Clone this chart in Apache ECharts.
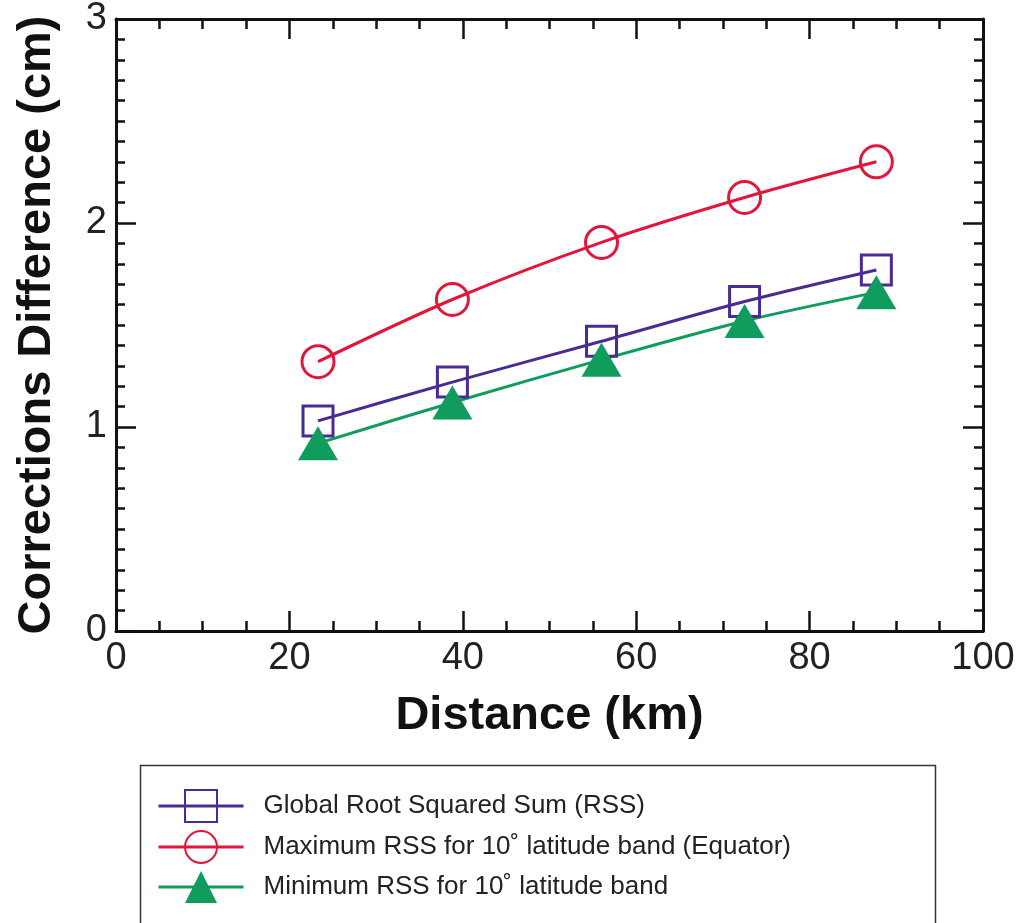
<!DOCTYPE html>
<html>
<head>
<meta charset="utf-8">
<script src="https://cdn.jsdelivr.net/npm/echarts@6/dist/echarts.min.js"></script>
<style>
  html, body { margin: 0; padding: 0; background: #fff; }
  #main { width: 1021px; height: 923px; }
</style>
</head>
<body>
<div id="main"></div>
<script>
// distances (km) where the corrections were compared
var distance = [23.3, 38.8, 56.0, 72.5, 87.7];
// corrections difference (cm)
var globalRss = [1.03, 1.22, 1.42, 1.615, 1.77];
var maxRss = [1.32, 1.625, 1.905, 2.125, 2.30];
var minRss = [0.92, 1.12, 1.33, 1.52, 1.66];
var names = [
  'Global Root Squared Sum (RSS)',
  'Maximum RSS for 10\u02da latitude band (Equator)',
  'Minimum RSS for 10\u02da latitude band'
];

function pairs(ys) {
  var out = [];
  for (var i = 0; i < distance.length; i++) out.push([distance[i], ys[i]]);
  return out;
}

var myChart = echarts.init(document.getElementById('main'));

var axLine = { show: true, onZero: false, lineStyle: { color: '#111', width: 3 } };
var tick = { show: true, inside: true, length: 20, lineStyle: { color: '#111', width: 2.5 } };
var lbl = { color: '#222', fontSize: 38, fontFamily: 'Liberation Sans, Arial, sans-serif', margin: 9 };
var nameFont = { color: '#111', fontSize: 47, fontWeight: 'bold', fontFamily: 'Liberation Sans, Arial, sans-serif' };

myChart.setOption({
  animation: false,
  backgroundColor: '#fff',
  grid: { left: 116, right: 38, top: 19, bottom: 292 },
  xAxis: [{
    type: 'value', min: 0, max: 100, interval: 20, position: 'bottom',
    name: 'Distance (km)', nameLocation: 'middle', nameGap: 62,
    nameTextStyle: nameFont,
    axisLine: axLine, axisTick: tick,
    minorTick: { show: true, splitNumber: 4, length: 10, lineStyle: { color: '#111', width: 2.5 } },
    axisLabel: lbl, splitLine: { show: false }
  }, {
    type: 'value', min: 0, max: 100, interval: 20, position: 'top',
    axisLine: axLine, axisTick: tick,
    minorTick: { show: true, splitNumber: 4, length: 10, lineStyle: { color: '#111', width: 2.5 } },
    axisLabel: { show: false }, splitLine: { show: false }
  }],
  yAxis: [{
    type: 'value', min: 0, max: 3, interval: 1, position: 'left',
    name: 'Corrections Difference (cm)', nameLocation: 'middle', nameGap: 55,
    nameTextStyle: nameFont,
    axisLine: axLine, axisTick: tick,
    minorTick: { show: true, splitNumber: 10, length: 9, lineStyle: { color: '#111', width: 2.5 } },
    axisLabel: lbl, splitLine: { show: false }
  }, {
    type: 'value', min: 0, max: 3, interval: 1, position: 'right',
    axisLine: axLine, axisTick: tick,
    minorTick: { show: true, splitNumber: 10, length: 9, lineStyle: { color: '#111', width: 2.5 } },
    axisLabel: { show: false }, splitLine: { show: false }
  }],
  legend: {
    orient: 'vertical', left: 157, top: 789, padding: 0,
    itemWidth: 85, itemHeight: 40, itemGap: 7,
    lineStyle: { width: 3 },
    textStyle: { color: '#222', fontSize: 26, fontFamily: 'Liberation Sans, Arial, sans-serif', padding: [0, 0, 0, 15] },
    data: names
  },
  graphic: [{
    type: 'rect', left: 138, top: 763, silent: true,
    shape: { width: 795, height: 170 },
    style: { fill: 'none', stroke: '#333', lineWidth: 1.5 }
  }],
  series: [{
    name: names[0], type: 'line', data: pairs(globalRss), smooth: 0.3,
    symbol: 'rect', symbolSize: 30,
    lineStyle: { color: '#4a2b96', width: 3 },
    itemStyle: { color: 'rgba(255,255,255,0)', borderColor: '#4a2b96', borderWidth: 3 }
  }, {
    name: names[1], type: 'line', data: pairs(maxRss), smooth: 0.3,
    symbol: 'circle', symbolSize: 32,
    lineStyle: { color: '#e3163a', width: 3 },
    itemStyle: { color: 'rgba(255,255,255,0)', borderColor: '#e3163a', borderWidth: 3 }
  }, {
    name: names[2], type: 'line', data: pairs(minRss), smooth: 0.3,
    symbol: 'triangle', symbolSize: [40, 34],
    lineStyle: { color: '#109c5c', width: 3 },
    itemStyle: { color: '#109c5c' }
  }]
});
</script>
</body>
</html>
